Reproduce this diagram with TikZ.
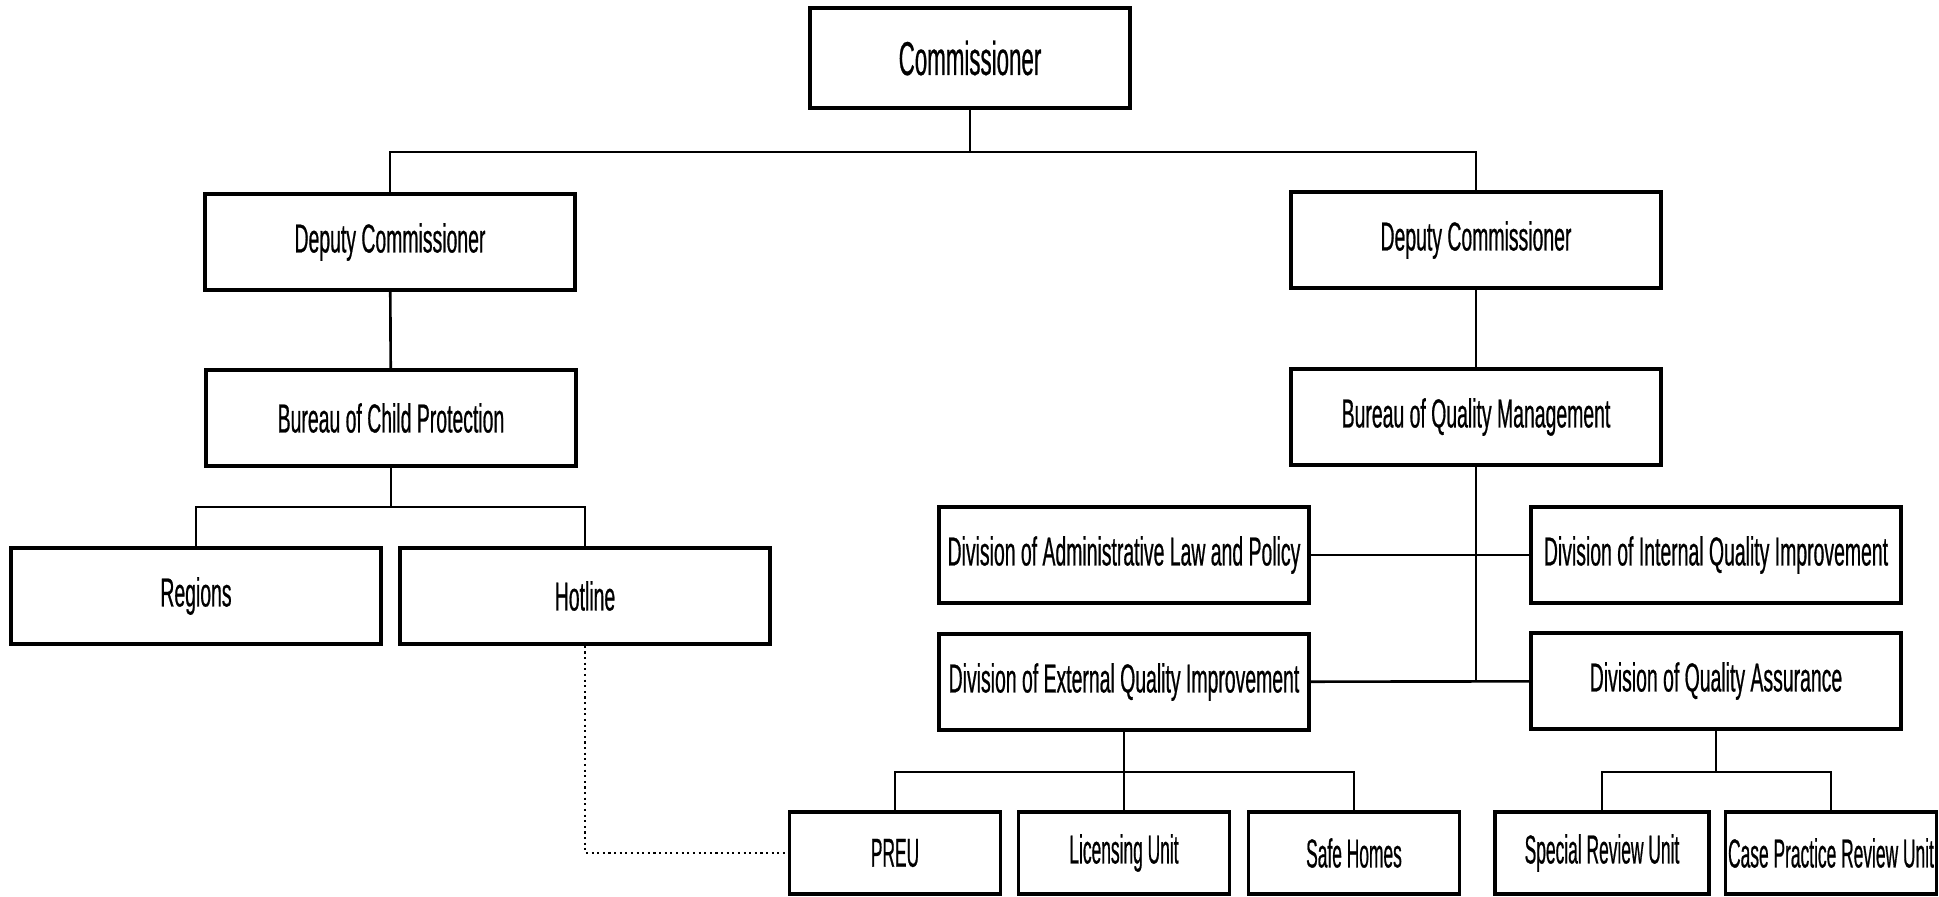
\documentclass[tikz,border=0pt]{standalone}
\usepackage{fontspec}
\setmainfont{Liberation Sans}[FakeStretch=0.48, FakeBold=0.5]
\tikzset{
  unit/.style={draw, line width=1pt, fill=white, inner sep=0pt,
    minimum width=3.7cm, minimum height=0.96cm,
    font=\fontsize{11.5}{13}\selectfont},
  small unit/.style={unit, minimum width=2.11cm, minimum height=0.82cm,
    font=\fontsize{11.5}{13}\selectfont\addfontfeature{FakeStretch=0.43}},
  link/.style={line width=0.75pt}
}
\begin{document}
\begin{tikzpicture}[x=0.01cm, y=-0.01cm]
        \useasboundingbox (0,0) rectangle (1939,896);
        % Top of the chart
        \node[unit, minimum width=3.2cm, minimum height=1cm,
          font=\fontsize{13.5}{15}\selectfont\addfontfeature{FakeStretch=0.47}] (comm) at (970,58) {Commissioner};
        \node[unit] (depL) at (390,242) {Deputy Commissioner};
        \node[unit] (depR) at (1476,240) {Deputy Commissioner};
        \coordinate (commbus) at (970,152);
        \draw[link] (comm.south) -- (commbus);
        \draw[link] (depL.north) |- (commbus) -| (depR.north);
        % Left branch: child protection
        \node[unit] (bcp) at (391,418) {Bureau of Child Protection};
        \node[unit] (regions) at (196,596) {Regions};
        \node[unit] (hotline) at (585,596) {Hotline};
        \coordinate (bcpbus) at (391,507);
        \draw[link] (depL) -- (bcp);
        \draw[link] (bcp.south) -- (bcpbus);
        \draw[link] (regions.north) |- (bcpbus) -| (hotline.north);
        % Right branch: quality management
        \node[unit] (bqm) at (1476,417) {Bureau of Quality Management};
        \draw[link] (depR) -- (bqm);
        \node[unit] (dalp) at (1124,555) {Division of Administrative Law and Policy};
        \node[unit] (diqi) at (1716,555) {Division of Internal Quality Improvement};
        \node[unit] (deqi) at (1124,682) {Division of External Quality Improvement};
        \node[unit] (dqa) at (1716,681) {Division of Quality Assurance};
        \coordinate (spine) at (1476,681);
        \draw[link] (bqm.south) -- (spine);
        \draw[link] (dalp) -- (diqi);
        \draw[link] (deqi) -- (dqa);
        % Units under the divisions
        \node[small unit] (preu) at (895,853) {PREU};
        \node[small unit] (lic) at (1124,853) {Licensing Unit};
        \node[small unit] (safe) at (1354,853) {Safe Homes};
        \node[small unit, minimum width=2.14cm] (sru) at (1602,853) {Special Review Unit};
        \node[small unit] (cpru) at (1831,853) {Case Practice Review Unit};
        \coordinate (deqibus) at (1124,772);
        \coordinate (dqabus) at (1716,772);
        \draw[link] (deqi.south) -- (lic.north);
        \draw[link] (preu.north) |- (deqibus) -| (safe.north);
        \draw[link] (dqa.south) -- (dqabus);
        \draw[link] (sru.north) |- (dqabus) -| (cpru.north);
        % Hotline to PREU
        \draw[densely dotted, line width=0.6pt] (hotline.south) |- (preu.west);
    \end{tikzpicture}
\end{document}
